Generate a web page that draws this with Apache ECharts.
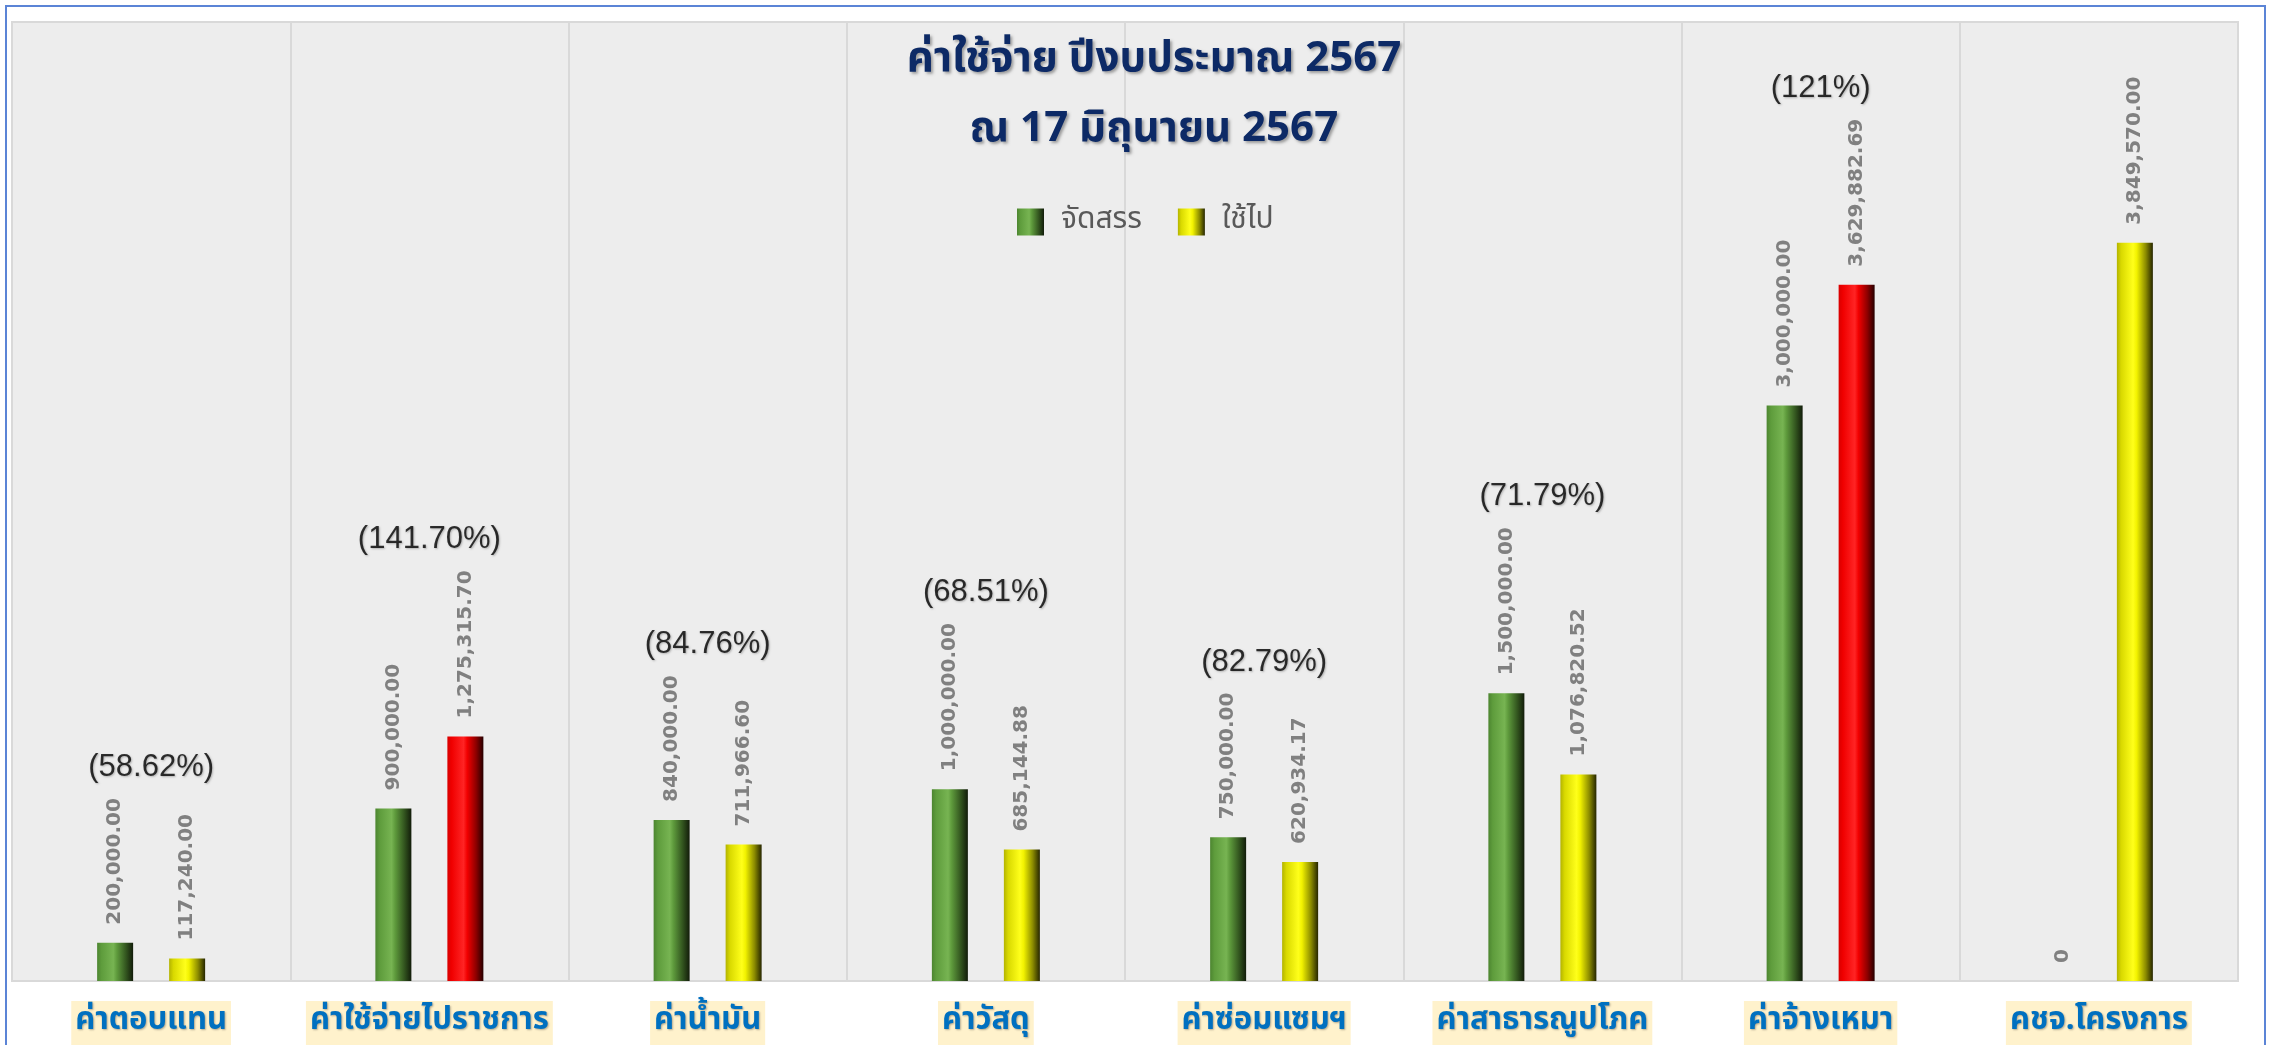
<!DOCTYPE html>
<html>
<head>
<meta charset="utf-8">
<script src="https://cdn.jsdelivr.net/npm/echarts@6/dist/echarts.min.js"></script>
<style>
  html, body { margin: 0; padding: 0; background: #fff; }
  #frame { position: absolute; left: 5px; top: 5px; width: 2261px; height: 1100px; border: 2px solid #5B84D6; box-sizing: border-box; }
  #chart { position: absolute; left: 0; top: 0; width: 2277px; height: 1045px; }
</style>
</head>
<body>
<div id="frame"></div>
<div id="chart"></div>
<script>
// budget categories
const categories = ['ค่าตอบแทน', 'ค่าใช้จ่ายไปราชการ', 'ค่าน้ำมัน', 'ค่าวัสดุ', 'ค่าซ่อมแซมฯ', 'ค่าสาธารณูปโภค', 'ค่าจ้างเหมา', 'คชจ.โครงการ'];
const allocated = [200000, 900000, 840000, 1000000, 750000, 1500000, 3000000, 0];
const spent = [117240, 1275315.70, 711966.60, 685144.88, 620934.17, 1076820.52, 3629882.69, 3849570];
const pctLabels = ['(58.62%)', '(141.70%)', '(84.76%)', '(68.51%)', '(82.79%)', '(71.79%)', '(121%)', ''];

const valueFontSize = 20;
const valueFontFamily = '"DejaVu Sans"';
const labelDist = 18;

function fmt(v) {
  if (v === 0) return '0';
  return v.toLocaleString('en-US', { minimumFractionDigits: 2, maximumFractionDigits: 2 });
}

// measure rotated label length so the % text sits above it
const ctx = document.createElement('canvas').getContext('2d');
ctx.font = 'bold ' + valueFontSize + 'px ' + valueFontFamily;
function textLen(s) { return ctx.measureText(s).width; }

function hGrad(stops) {
  return new echarts.graphic.LinearGradient(0, 0, 1, 0, stops.map((c) => ({ offset: c[0], color: c[1] })));
}
const greenFill = hGrad([[0, '#4C8530'], [0.12, '#5E9C3C'], [0.45, '#77B452'], [0.55, '#5E9A3C'], [0.8, '#33561F'], [1, '#121C0A']]);
const yellowFill = hGrad([[0, '#B3B300'], [0.12, '#D9D900'], [0.45, '#FFFF1A'], [0.55, '#F2F200'], [0.8, '#8C8C00'], [1, '#262600']]);
const redFill = hGrad([[0, '#D80000'], [0.12, '#F00000'], [0.45, '#FF2424'], [0.55, '#F20000'], [0.8, '#8C0000'], [1, '#260000']]);

const barLabel = {
  show: true,
  position: 'top',
  rotate: 90,
  align: 'left',
  verticalAlign: 'middle',
  distance: labelDist,
  color: '#808080',
  fontSize: valueFontSize,
  fontWeight: 'bold',
  fontFamily: valueFontFamily,
  formatter: (p) => fmt(p.value)
};

const pctData = categories.map((c, i) => {
  const a = allocated[i], s = spent[i];
  const top = Math.max(a, s);
  const len = textLen(fmt(top));
  return {
    value: pctLabels[i] ? top : '-',
    label: { formatter: pctLabels[i], offset: [0, -(labelDist + len + 10)] }
  };
});

const chart = echarts.init(document.getElementById('chart'));
chart.setOption({
  animation: false,
  title: {
    text: 'ค่าใช้จ่าย ปีงบประมาณ 2567\nณ 17 มิถุนายน 2567',
    left: 1149,
    top: 23,
    textAlign: 'center',
    textStyle: {
      fontFamily: 'Tahoma, "Noto Sans Thai", "Noto Sans", sans-serif',
      fontSize: 42,
      fontWeight: 'bold',
      lineHeight: 70,
      color: '#0D2A66',
      textShadowColor: 'rgba(0,0,0,0.35)',
      textShadowBlur: 3,
      textShadowOffsetX: 2,
      textShadowOffsetY: 2
    }
  },
  legend: {
    data: ['จัดสรร', 'ใช้ไป'],
    left: 1012,
    top: 202,
    itemWidth: 27,
    itemHeight: 27,
    itemGap: 36,
    icon: 'rect',
    textStyle: {
      fontFamily: 'Tahoma, "Noto Sans Thai", "Noto Sans", sans-serif',
      fontSize: 30,
      color: '#595959',
      padding: [0, 0, 0, 12]
    }
  },
  grid: {
    left: 12,
    right: 39,
    top: 22,
    bottom: 64,
    outerBoundsMode: 'none',
    show: true,
    backgroundColor: '#EDEDED',
    borderColor: '#D9D9D9',
    borderWidth: 2
  },
  xAxis: {
    type: 'category',
    data: categories,
    axisTick: { show: false },
    axisLine: { lineStyle: { color: '#D9D9D9', width: 2 } },
    splitLine: { show: true, lineStyle: { color: '#D9D9D9', width: 2 } },
    axisLabel: {
      interval: 0,
      margin: 20,
      fontFamily: 'Tahoma, "Noto Sans Thai", "Noto Sans", sans-serif',
      fontSize: 31,
      fontWeight: 'bold',
      color: '#0070C0',
      backgroundColor: '#FFF2CC',
      padding: [6, 4, 14, 4],
      textShadowColor: 'rgba(0,0,0,0.3)',
      textShadowBlur: 2,
      textShadowOffsetX: 1,
      textShadowOffsetY: 1
    }
  },
  yAxis: {
    type: 'value',
    min: 0,
    max: 5000000,
    show: false,
    splitLine: { show: false }
  },
  series: [
    {
      name: 'จัดสรร',
      type: 'bar',
      data: allocated,
      barWidth: 36,
      barGap: '100%',
      itemStyle: { color: greenFill },
      label: barLabel
    },
    {
      name: 'ใช้ไป',
      type: 'bar',
      data: spent.map((v, i) => (v > allocated[i] && allocated[i] > 0)
        ? { value: v, itemStyle: { color: redFill } }
        : v),
      barWidth: 36,
      itemStyle: { color: yellowFill },
      label: barLabel
    },
    {
      name: 'pct',
      type: 'scatter',
      symbolSize: 0,
      silent: true,
      data: pctData,
      label: {
        show: true,
        position: 'top',
        color: '#000',
        fontFamily: '"Liberation Sans Narrow", "Liberation Sans", sans-serif',
        fontSize: 31,
        textShadowColor: 'rgba(0,0,0,0.3)',
        textShadowBlur: 2,
        textShadowOffsetX: 1,
        textShadowOffsetY: 1
      }
    }
  ]
});
</script>
</body>
</html>
